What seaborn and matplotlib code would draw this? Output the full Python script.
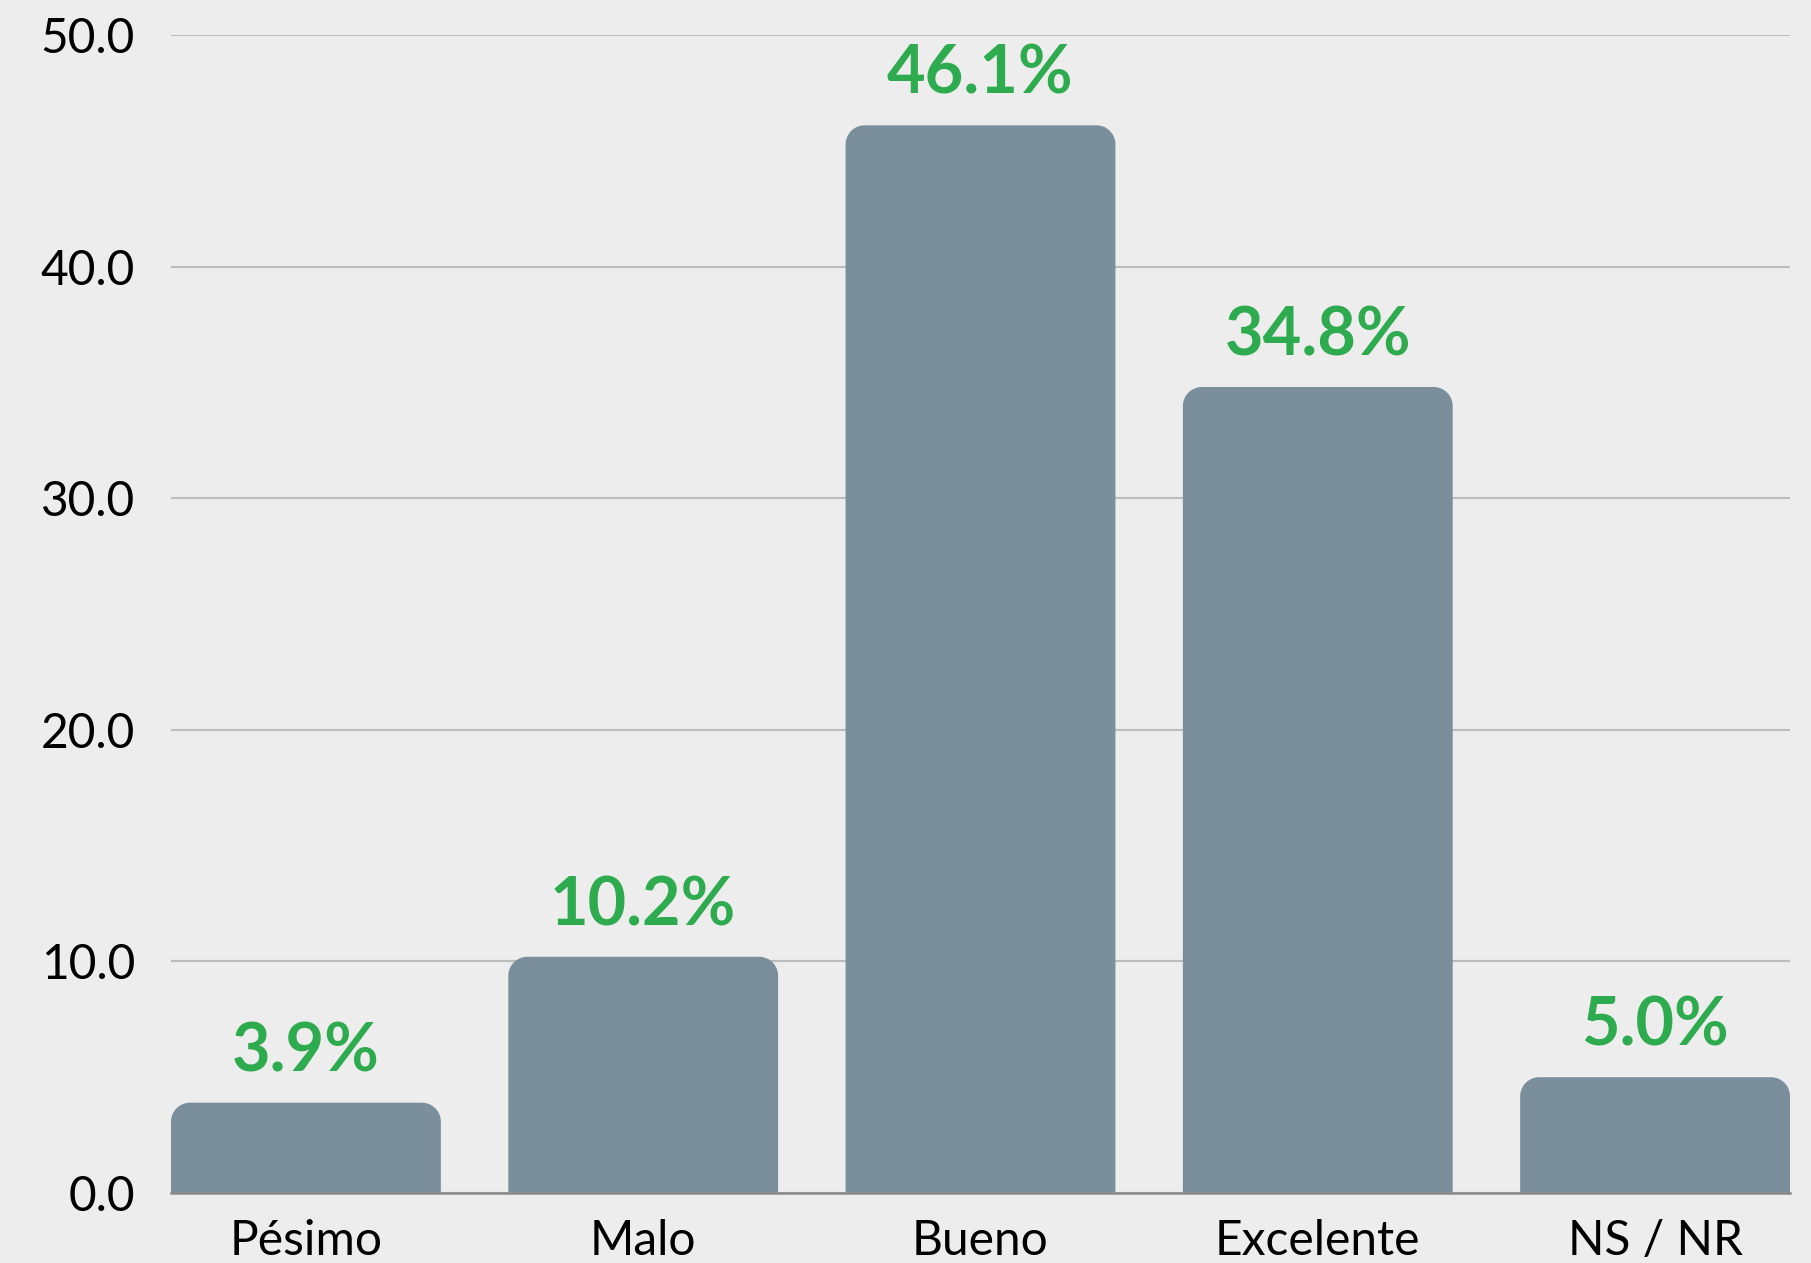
import numpy as np
import pandas as pd
import matplotlib
matplotlib.use("Agg")
import matplotlib.pyplot as plt
from matplotlib.path import Path
from matplotlib.patches import PathPatch
import seaborn as sns

categories = ["Pésimo", "Malo", "Bueno", "Excelente", "NS / NR"]
values = [3.9, 10.2, 46.1, 34.8, 5.0]
labels = ["3.9%", "10.2%", "46.1%", "34.8%", "5.0%"]
yticks = [0, 10, 20, 30, 40, 50]

bg = "#ededed"
bar_color = "#7a8f9b"
green = "#2eaa4f"

sns.set_theme(style="white")
plt.rcParams["font.family"] = ["Lato", "DejaVu Sans"]

df = pd.DataFrame({"cat": categories, "val": values})

fig = plt.figure(figsize=(18.11, 12.63), dpi=100, facecolor=bg)
ax = fig.add_axes([171 / 1811, 1 - 1193 / 1263, (1790 - 171) / 1811, (1193 - 35) / 1263])
ax.set_facecolor(bg)

sns.barplot(data=df, x="cat", y="val", color=bar_color, width=0.8,
            saturation=1, ax=ax, zorder=2)

ax.set_xlim(-0.4, 4.4)
ax.set_ylim(0, 50)
ax.set_yticks(yticks)
ax.set_yticklabels([f"{t:.1f}" for t in yticks])
ax.yaxis.grid(True, color="#bcbcbc", linewidth=1.5, zorder=0)
ax.set_axisbelow(True)

for s in ["top", "right", "left"]:
    ax.spines[s].set_visible(False)
ax.spines["bottom"].set_color("#8a8a8a")
ax.spines["bottom"].set_linewidth(1.8)
ax.spines["bottom"].set_zorder(3)

ax.tick_params(axis="y", length=0, pad=26, labelsize=34.5, labelcolor="black")
ax.tick_params(axis="x", length=0, pad=19, labelsize=34.5, labelcolor="black")
ax.set_xlabel("")
ax.set_ylabel("")

# rounded top corners
fig.canvas.draw()
px_x = ax.transData.transform((1, 0))[0] - ax.transData.transform((0, 0))[0]
px_y = ax.transData.transform((0, 1))[1] - ax.transData.transform((0, 0))[1]
r_px = 19
rx, ry = r_px / px_x, r_px / px_y
k = 0.5523
for p in list(ax.patches):
    x0, y0 = p.get_x(), p.get_y()
    w, h = p.get_width(), p.get_height()
    x1, y1 = x0 + w, y0 + h
    ryy = min(ry, h)
    verts = [
        (x0, y0), (x0, y1 - ryy),
        (x0, y1 - ryy + k * ryy), (x0 + rx - k * rx, y1), (x0 + rx, y1),
        (x1 - rx, y1),
        (x1 - rx + k * rx, y1), (x1, y1 - ryy + k * ryy), (x1, y1 - ryy),
        (x1, y0), (x0, y0),
    ]
    codes = [Path.MOVETO, Path.LINETO,
             Path.CURVE4, Path.CURVE4, Path.CURVE4,
             Path.LINETO,
             Path.CURVE4, Path.CURVE4, Path.CURVE4,
             Path.LINETO, Path.CLOSEPOLY]
    ax.add_patch(PathPatch(Path(verts, codes), facecolor=bar_color,
                           edgecolor="none", zorder=2))
    p.remove()

for i, (v, lab) in enumerate(zip(values, labels)):
    ax.annotate(lab, (i, v), xytext=(0, 14), textcoords="offset points",
                ha="center", va="bottom", fontsize=48, fontweight="bold",
                color=green, zorder=4)

fig.savefig("out.png", dpi=100, facecolor=bg)
